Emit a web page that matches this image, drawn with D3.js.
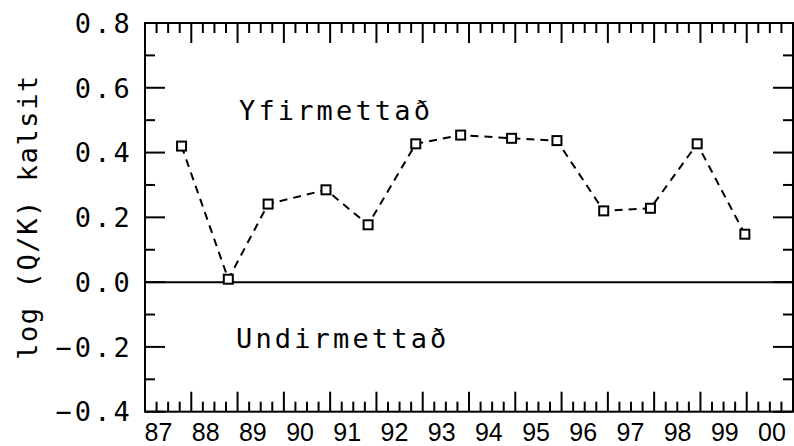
<!DOCTYPE html>
<html>
<head>
<meta charset="utf-8">
<script src="https://cdn.jsdelivr.net/npm/d3@7"></script>
<style>
  html, body { margin: 0; padding: 0; background: #fff; }
  svg { display: block; }
  .mono { font-family: "DejaVu Sans Mono", monospace; font-size: 27px; letter-spacing: 3.15px; fill: #000; }
  .year { font-family: "Liberation Sans", Arial, sans-serif; font-size: 25px; fill: #000; }
</style>
</head>
<body>
<script>
// Sampling dates (decimal years) and log(Q/K) for calcite
const sampleYears = [1987.79, 1988.80, 1989.66, 1990.91, 1991.82, 1992.85, 1993.82,
                     1994.92, 1995.90, 1996.91, 1997.92, 1998.93, 1999.96];
const logQK = [0.420, 0.009, 0.241, 0.285, 0.177, 0.427, 0.454,
               0.444, 0.437, 0.220, 0.228, 0.427, 0.148];

const yearLabels = ["87", "88", "89", "90", "91", "92", "93", "94", "95", "96", "97", "98", "99", "00"];
const yTickValues = [-0.4, -0.2, 0.0, 0.2, 0.4, 0.6, 0.8];
const yTickLabels = ["\u22120.4", "\u22120.2", "0.0", "0.2", "0.4", "0.6", "0.8"];

const W = 794, H = 446;
const frame = { left: 145, right: 793, top: 23, bottom: 411.7 };

const svg = d3.select("body").append("svg").attr("width", W).attr("height", H);

const x = d3.scaleLinear().domain([1987, 2001]).range([frame.left, frame.right]);
const y = d3.scaleLinear().domain([-0.4, 0.8]).range([frame.bottom, frame.top]);
const labelX = d3.scalePoint().domain(yearLabels).range([158.5, 772]);

const ink = "#000";

// tick marks along each side of the frame
const yearMajor = d3.range(1987, 2002);
const yearMinor = d3.range(1987, 2001, 0.25).filter(v => Math.abs(v - Math.round(v)) > 1e-6);
const yMajor = d3.range(-0.4, 0.81, 0.2);
const yMinor = d3.range(-0.3, 0.8, 0.2);

const ticks = svg.append("g").attr("stroke", ink).attr("stroke-width", 2);
function hTicks(vals, len) {
  vals.forEach(v => {
    ticks.append("line").attr("x1", x(v)).attr("x2", x(v)).attr("y1", frame.top).attr("y2", frame.top + len);
    ticks.append("line").attr("x1", x(v)).attr("x2", x(v)).attr("y1", frame.bottom).attr("y2", frame.bottom - len);
  });
}
function vTicks(vals, len) {
  vals.forEach(v => {
    ticks.append("line").attr("y1", y(v)).attr("y2", y(v)).attr("x1", frame.left).attr("x2", frame.left + len);
    ticks.append("line").attr("y1", y(v)).attr("y2", y(v)).attr("x1", frame.right).attr("x2", frame.right - len);
  });
}
hTicks(yearMajor, 20);
hTicks(yearMinor, 10);
vTicks(yMajor, 20);
vTicks(yMinor, 10);

// frame
svg.append("rect")
  .attr("x", frame.left).attr("y", frame.top)
  .attr("width", frame.right - frame.left).attr("height", frame.bottom - frame.top)
  .attr("fill", "none").attr("stroke", ink).attr("stroke-width", 2);

// zero line
svg.append("line")
  .attr("x1", frame.left).attr("x2", frame.right)
  .attr("y1", y(0)).attr("y2", y(0))
  .attr("stroke", ink).attr("stroke-width", 2);

// y tick labels
svg.append("g").selectAll("text")
  .data(yTickValues)
  .join("text")
  .attr("class", "mono")
  .attr("text-anchor", "end")
  .attr("x", 133)
  .attr("y", d => y(d))
  .attr("dy", "0.36em")
  .text((d, i) => yTickLabels[i]);

// year labels
svg.append("g").selectAll("text")
  .data(yearLabels)
  .join("text")
  .attr("class", "year")
  .attr("text-anchor", "middle")
  .attr("x", d => labelX(d))
  .attr("y", 440.5)
  .text(d => d);

// y axis title
svg.append("text")
  .attr("class", "mono")
  .style("letter-spacing", "1.6px")
  .attr("text-anchor", "middle")
  .attr("transform", "translate(37,217) rotate(-90)")
  .text("log (Q/K) kalsit");

// region annotations
svg.append("text").attr("class", "mono").attr("x", 239).attr("y", 120).text("Yfirmettað");
svg.append("text").attr("class", "mono").attr("x", 236).attr("y", 348).text("Undirmettað");

// dashed series line
const pts = sampleYears.map((t, i) => [t, logQK[i]]);
svg.append("path")
  .datum(pts)
  .attr("fill", "none")
  .attr("stroke", ink)
  .attr("stroke-width", 2)
  .attr("stroke-dasharray", "8,6")
  .attr("d", d3.line().x(d => x(d[0])).y(d => y(d[1])));

// square markers
const s = 9;
svg.append("g").selectAll("rect")
  .data(pts)
  .join("rect")
  .attr("x", d => x(d[0]) - s / 2)
  .attr("y", d => y(d[1]) - s / 2)
  .attr("width", s).attr("height", s)
  .attr("fill", "#fff")
  .attr("stroke", ink)
  .attr("stroke-width", 2);
</script>
</body>
</html>
